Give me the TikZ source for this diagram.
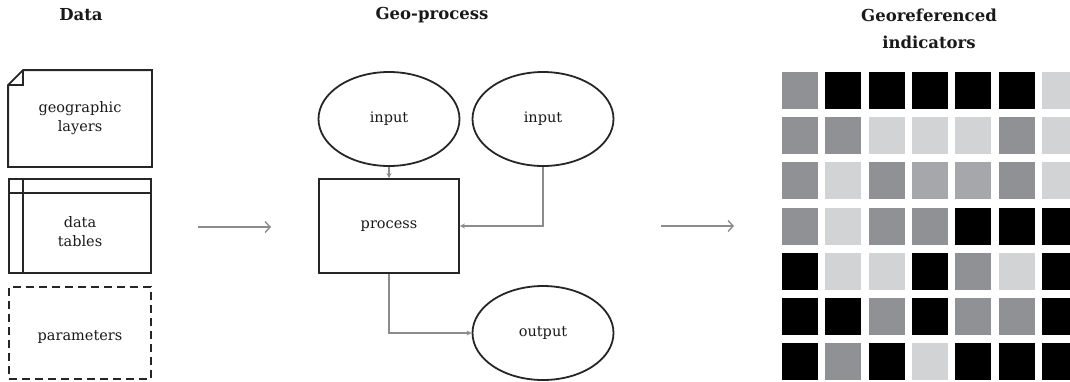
\documentclass[tikz,border=0pt]{standalone}
\usepackage{fontspec}
\setmainfont{DejaVu Serif}
\usetikzlibrary{arrows.meta,positioning,shapes.geometric}

\definecolor{cellK}{HTML}{000000}
\definecolor{cellG}{HTML}{8F9194}
\definecolor{cellM}{HTML}{A5A7AA}
\definecolor{cellL}{HTML}{D1D3D5}
\definecolor{linkgray}{HTML}{8C8C8C}

\tikzset{
    heading/.style={font=\bfseries\fontsize{16.5}{27}\selectfont, align=center, text=black!90},
    caption/.style={font=\fontsize{14.5}{19}\selectfont, align=center, text=black!90},
    databox/.style={caption, line width=1.8pt, minimum width=142pt, minimum height=95pt, inner sep=0pt},
    procbox/.style={caption, draw=black!85, line width=1.8pt, minimum width=140pt, minimum height=94pt, inner sep=0pt},
    blob/.style={caption, ellipse, draw=black!85, line width=1.8pt, minimum width=141pt, minimum height=94pt, inner sep=0pt},
    link/.style={draw=linkgray, line width=1.4pt, -{Stealth[length=5pt,width=5pt]}},
    flow/.style={draw=linkgray, line width=1.4pt, -{Straight Barb[length=5pt,width=11pt]}},
}

\begin{document}
\begin{tikzpicture}[x=1pt, y=-1pt]
    \useasboundingbox (0,0) rectangle (1070,381);

    % headings
    \node[heading] (hdata) at (81,15) {Data};
    \node[heading] (hproc) at (432,15) {Geo-process};
    \node[heading] (hind) at (929,28.5) {Georeferenced\\indicators};

    % data column
    \node[databox] (geo) at (80,118.5) {geographic\\layers};
    \draw[line width=1.8pt, draw=black!85] ([xshift=15pt]geo.north west) -- (geo.north east)
        -- (geo.south east) -- (geo.south west) -- ([yshift=-15pt]geo.north west) -- cycle;
    \draw[line width=1.8pt, draw=black!85] ([yshift=-15pt]geo.north west) -- ++(15,0)
        -- ([xshift=15pt]geo.north west);

    \node[databox, draw=black!85, minimum height=94pt] (tables) at (80,226) {};
    \node[caption] (tablestext) at ([yshift=-6pt]tables.center) {data\\tables};
    \draw[line width=1.8pt, draw=black!85] ([xshift=15pt]tables.north west) -- ([xshift=15pt]tables.south west);
    \draw[line width=1.8pt, draw=black!85] ([yshift=-15pt]tables.north west) -- ([yshift=-15pt]tables.north east);

    \node[databox, draw=black!85, dash pattern=on 8pt off 5pt, minimum height=92pt] (params) at (80,333) {};
    \node[caption] (paramstext) at ([yshift=-4pt]params.center) {parameters};

    % geo-process
    \node[blob] (in1) at (389,119) {input};
    \node[blob] (in2) at (543,119) {input};
    \node[procbox] (process) at (389,226) {\raisebox{-3pt}{process}};
    \node[blob] (out) at (543,333) {output};

    \draw[link] (in1.south) -- (process.north);
    \draw[link] (in2.south) |- (process.east);
    \draw[link] (process.south) |- (out.west);

    % flow between columns
    \coordinate (f1a) at (198,227);
    \coordinate (f1b) at (271,227);
    \coordinate (f2a) at (661,226);
    \coordinate (f2b) at (734,226);
    \draw[flow] (f1a) -- (f1b);
    \draw[flow] (f2a) -- (f2b);

    % indicator grid
    \begin{scope}
        \clip (0,0) rectangle (1070,381);
        \foreach \cells [count=\r from 0] in {{G,K,K,K,K,K,L},{G,G,L,L,L,G,L},{G,L,G,M,M,G,L},
                {G,L,G,G,K,K,K},{K,L,L,K,G,L,K},{K,K,G,K,G,G,K},{K,G,K,L,K,K,K}}
            \foreach \c [count=\i from 0] in \cells
                \fill[cell\c] (782+43.3*\i, 72+45.2*\r) rectangle ++(36,37);
    \end{scope}
\end{tikzpicture}
\end{document}
